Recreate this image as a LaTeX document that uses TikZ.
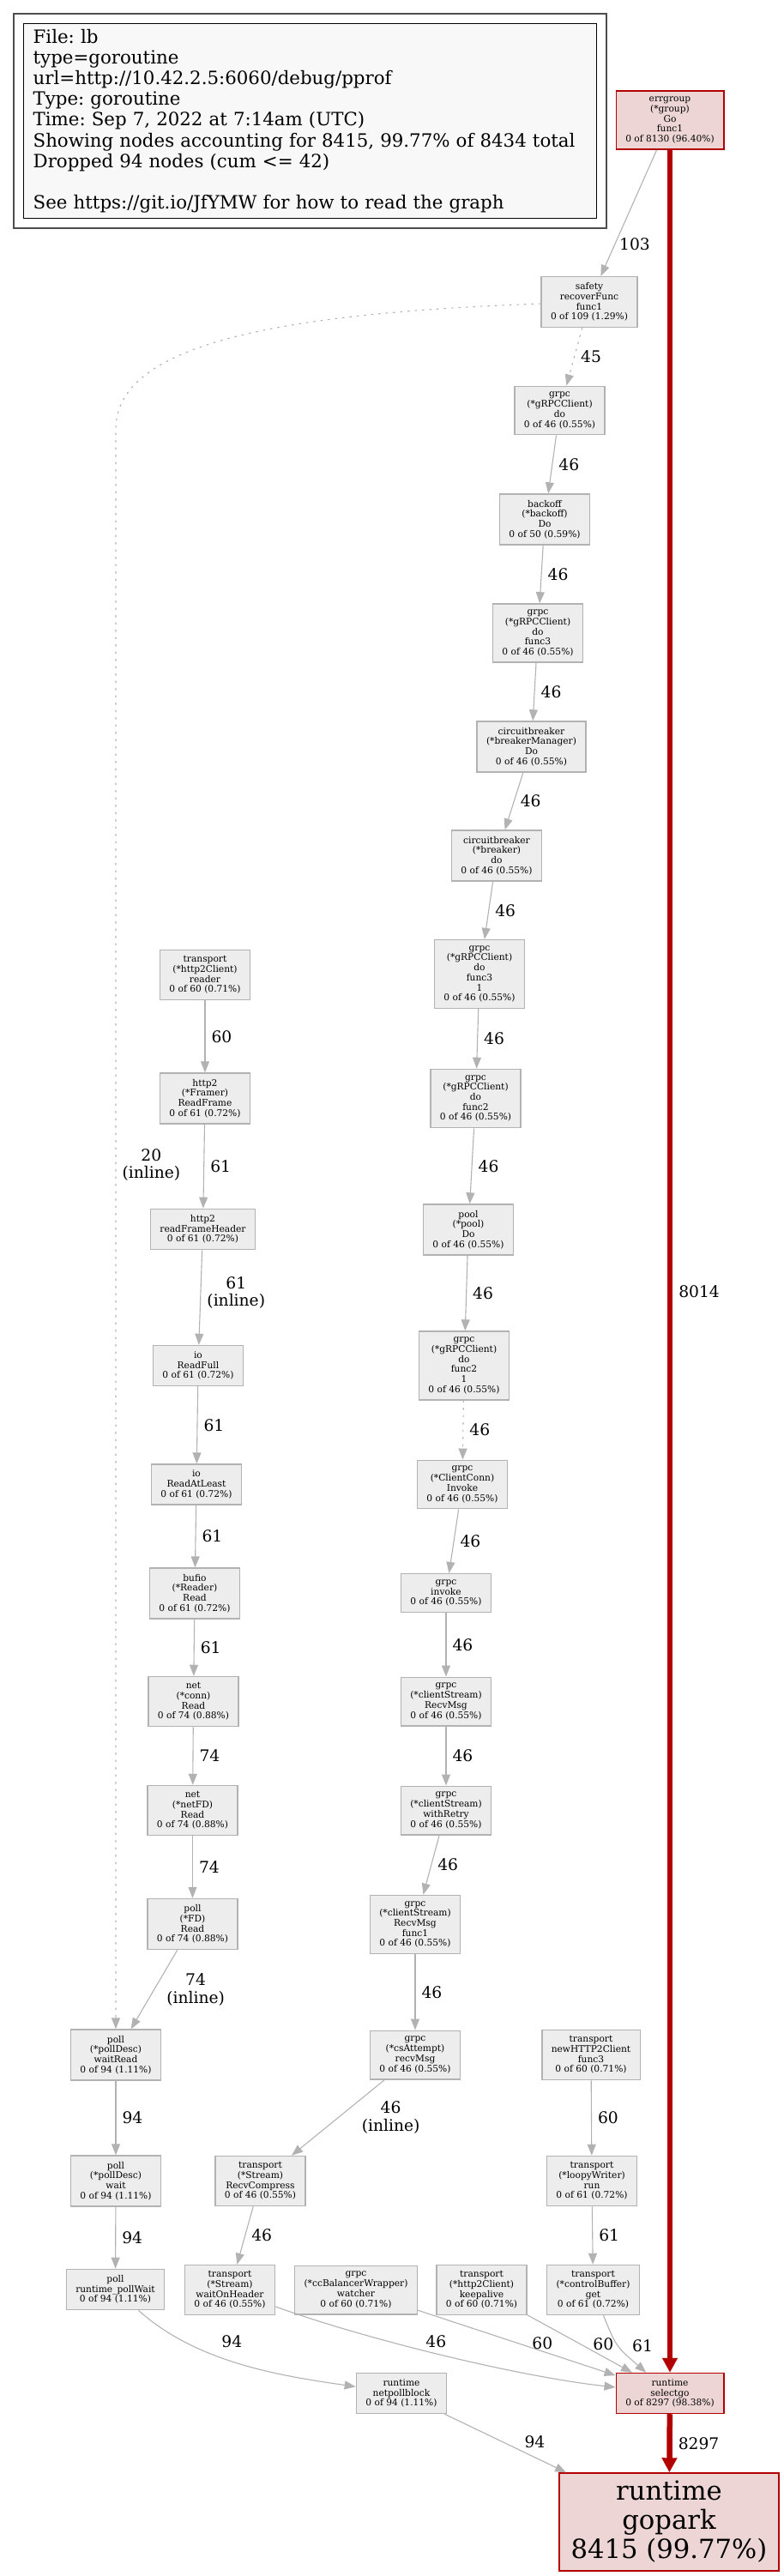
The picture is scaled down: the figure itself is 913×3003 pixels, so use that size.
\documentclass[tikz,border=0pt]{standalone}
\usepackage{fontspec}
\setmainfont{DejaVu Serif}
\usepackage{tikz}
\usetikzlibrary{arrows.meta, fit}
\usepackage{xcolor}

\definecolor{edgegray}{HTML}{B2B2B2}
\definecolor{nodegray}{HTML}{EDEDED}
\definecolor{nodeline}{HTML}{B2B2B2}
\definecolor{hotred}{HTML}{B20000}
\definecolor{hotfill}{HTML}{EDD5D5}
\definecolor{legendfill}{HTML}{F8F8F8}
\definecolor{legendline}{HTML}{4D4D4D}

\newcommand{\fnfont}{\fontsize{10.67pt}{11.7pt}\selectfont}
\newcommand{\lblfont}{\fontsize{18.67pt}{20.7pt}\selectfont}
\newcommand{\legfont}{\fontsize{21.33pt}{24.2pt}\selectfont\frenchspacing}
\newcommand{\bigfont}{\fontsize{30.7pt}{34pt}\selectfont}

\begin{document}
\begin{tikzpicture}[x=1pt,y=-1pt]
    \tikzstyle{fn}=[shape=rectangle, draw=nodeline, fill=nodegray, line width=1.5pt, inner xsep=11pt, inner ysep=7pt, align=center, font=\fnfont]
    \tikzstyle{hot}=[fn, draw=hotred, fill=hotfill]
    \tikzstyle{call}=[color=edgegray, line width=1.1pt, -{Triangle[length=13pt, width=10pt]}]
    \tikzstyle{resid}=[dash pattern=on 2.5pt off 6pt]
    \tikzstyle{heavy}=[color=hotred, line width=6.5pt, -{Triangle[length=17pt, width=17pt]}]
    \tikzstyle{lbl}=[anchor=west, inner sep=2pt, xshift=5pt, align=center, font=\lblfont, text=black]
    \tikzstyle{legend}=[shape=rectangle, draw=black, fill=legendfill, line width=1.3pt, align=left, font=\legfont, text width=646pt, minimum height=227pt, inner xsep=11pt, inner ysep=6pt]

    \useasboundingbox (0,0) rectangle (913,3003);

    % legend
    \node[legend, anchor=north west] (L) at (27,27) {File: lb\\type=goroutine\\url=http://10.42.2.5:6060/debug/pprof\\Type: goroutine\\Time: Sep 7, 2022 at 7:14am (UTC)\\Showing nodes accounting for 8415, 99.77\% of 8434 total\\Dropped 94 nodes (cum <= 42)\\[24.2pt]See https://git.io/JfYMW for how to read the graph};
    \node[draw=legendline, line width=2pt, fit=(L), inner sep=11pt] (LO) {};

    % right column
    \node[hot] (E0) at (781,140) {errgroup\\(*group)\\Go\\func1\\0 of 8130 (96.40\%)};
    \node[fn] (A1) at (687,352) {safety\\recoverFunc\\func1\\0 of 109 (1.29\%)};
    \node[fn] (A2) at (652.5,478.5) {grpc\\(*gRPCClient)\\do\\0 of 46 (0.55\%)};
    \node[fn] (A3) at (635,605.5) {backoff\\(*backoff)\\Do\\0 of 50 (0.59\%)};
    \node[fn] (A4) at (627,738) {grpc\\(*gRPCClient)\\do\\func3\\0 of 46 (0.55\%)};
    \node[fn] (A5) at (619.5,870.5) {circuitbreaker\\(*breakerManager)\\Do\\0 of 46 (0.55\%)};
    \node[fn] (A6) at (579,997.5) {circuitbreaker\\(*breaker)\\do\\0 of 46 (0.55\%)};
    \node[fn] (A7) at (559,1135.5) {grpc\\(*gRPCClient)\\do\\func3\\1\\0 of 46 (0.55\%)};
    \node[fn] (A8) at (554.5,1280.5) {grpc\\(*gRPCClient)\\do\\func2\\0 of 46 (0.55\%)};
    \node[fn] (A9) at (546,1433.5) {pool\\(*pool)\\Do\\0 of 46 (0.55\%)};
    \node[fn] (A10) at (541,1592) {grpc\\(*gRPCClient)\\do\\func2\\1\\0 of 46 (0.55\%)};
    \node[fn] (A11) at (539,1730.5) {grpc\\(*ClientConn)\\Invoke\\0 of 46 (0.55\%)};
    \node[fn] (A12) at (520,1857) {grpc\\invoke\\0 of 46 (0.55\%)};
    \node[fn] (A13) at (520,1983.5) {grpc\\(*clientStream)\\RecvMsg\\0 of 46 (0.55\%)};
    \node[fn] (A14) at (520,2110.5) {grpc\\(*clientStream)\\withRetry\\0 of 46 (0.55\%)};
    \node[fn] (A15) at (484,2243.5) {grpc\\(*clientStream)\\RecvMsg\\func1\\0 of 46 (0.55\%)};
    \node[fn] (A16) at (484,2395.5) {grpc\\(*csAttempt)\\recvMsg\\0 of 46 (0.55\%)};
    \node[fn] (A17) at (303.5,2542.5) {transport\\(*Stream)\\RecvCompress\\0 of 46 (0.55\%)};
    \node[fn] (A18) at (268,2669.5) {transport\\(*Stream)\\waitOnHeader\\0 of 46 (0.55\%)};

    % left column
    \node[fn] (B1) at (239,1136.5) {transport\\(*http2Client)\\reader\\0 of 60 (0.71\%)};
    \node[fn] (B2) at (239,1280.5) {http2\\(*Framer)\\ReadFrame\\0 of 61 (0.72\%)};
    \node[fn] (B3) at (236.5,1433) {http2\\readFrameHeader\\0 of 61 (0.72\%)};
    \node[fn] (B4) at (231,1592) {io\\ReadFull\\0 of 61 (0.72\%)};
    \node[fn] (B5) at (229,1730.5) {io\\ReadAtLeast\\0 of 61 (0.72\%)};
    \node[fn] (B6) at (227,1857.5) {bufio\\(*Reader)\\Read\\0 of 61 (0.72\%)};
    \node[fn] (B7) at (225.5,1983.5) {net\\(*conn)\\Read\\0 of 74 (0.88\%)};
    \node[fn] (B8) at (224.5,2110.5) {net\\(*netFD)\\Read\\0 of 74 (0.88\%)};
    \node[fn] (B9) at (224.5,2243) {poll\\(*FD)\\Read\\0 of 74 (0.88\%)};
    \node[fn] (C1) at (135,2395.5) {poll\\(*pollDesc)\\waitRead\\0 of 94 (1.11\%)};
    \node[fn] (C2) at (135,2542.5) {poll\\(*pollDesc)\\wait\\0 of 94 (1.11\%)};
    \node[fn] (C3) at (134.5,2669) {poll\\runtime\_pollWait\\0 of 94 (1.11\%)};

    % bottom rows
    \node[fn] (D1) at (689,2395.5) {transport\\newHTTP2Client\\func3\\0 of 60 (0.71\%)};
    \node[fn] (D2) at (690,2542.5) {transport\\(*loopyWriter)\\run\\0 of 61 (0.72\%)};
    \node[fn] (D3) at (691.5,2669.5) {transport\\(*controlBuffer)\\get\\0 of 61 (0.72\%)};
    \node[fn] (W1) at (415,2669.5) {grpc\\(*ccBalancerWrapper)\\watcher\\0 of 60 (0.71\%)};
    \node[fn] (K1) at (561.5,2669.5) {transport\\(*http2Client)\\keepalive\\0 of 60 (0.71\%)};
    \node[fn] (N1) at (468,2790) {runtime\\netpollblock\\0 of 94 (1.11\%)};
    \node[hot] (S1) at (781,2790) {runtime\\selectgo\\0 of 8297 (98.38\%)};
    \node[hot, font=\bigfont, minimum width=256pt, minimum height=114pt, inner xsep=12pt] (GP) at (780,2940) {runtime\\gopark\\8415 (99.77\%)};

    \coordinate (T1) at (135,500);

    \path[call]
    (E0) edge node[lbl, pos=0.75, xshift=-2pt] {103} (A1)
    (A1) edge[resid] node[lbl] {45} (A2)
    (A2) edge node[lbl] {46} (A3)
    (A3) edge node[lbl] {46} (A4)
    (A4) edge node[lbl] {46} (A5)
    (A5) edge node[lbl] {46} (A6)
    (A6) edge node[lbl] {46} (A7)
    (A7) edge node[lbl] {46} (A8)
    (A8) edge node[lbl] {46} (A9)
    (A9) edge node[lbl] {46} (A10)
    (A10) edge[resid] node[lbl] {46} (A11)
    (A11) edge node[lbl] {46} (A12)
    (A12) edge node[lbl] {46} (A13)
    (A13) edge node[lbl] {46} (A14)
    (A14) edge node[lbl] {46} (A15)
    (A15) edge node[lbl] {46} (A16)
    (A16) edge node[lbl, xshift=20pt] {46\\(inline)} (A17)
    (A17) edge node[lbl] {46} (A18)
    (B1) edge node[lbl] {60} (B2)
    (B2) edge node[lbl] {61} (B3)
    (B3) edge node[lbl, pos=0.45] {61\\(inline)} (B4)
    (B4) edge node[lbl] {61} (B5)
    (B5) edge node[lbl] {61} (B6)
    (B6) edge node[lbl] {61} (B7)
    (B7) edge node[lbl] {74} (B8)
    (B8) edge node[lbl] {74} (B9)
    (B9) edge node[lbl, xshift=7pt] {74\\(inline)} (C1)
    (C1) edge node[lbl] {94} (C2)
    (C2) edge node[lbl] {94} (C3)
    (D1) edge node[lbl] {60} (D2)
    (D2) edge node[lbl] {61} (D3)
    (W1) edge node[lbl, anchor=south, xshift=-5pt, pos=0.63] {60} (S1)
    (K1) edge node[lbl, xshift=8pt] {60} (S1)
    (N1) edge node[lbl, pos=0.47, xshift=19pt] {94} (GP)
    ;

    \draw[call, resid] (A1) .. controls (330,365) and (135,400) .. (T1) -- (C1) node[lbl, pos=0.46] {20\\(inline)};
    \draw[call] (C3) .. controls (230,2755) and (330,2770) .. (N1) node[lbl, pos=0.4, anchor=south west, xshift=-5pt, yshift=8pt] {94};
    \draw[call] (A18) .. controls (420,2725) and (600,2770) .. (S1) node[lbl, pos=0.5, anchor=south, xshift=-9pt, yshift=5pt] {46};
    \draw[call] (D3) .. controls (718,2735) .. (S1) node[lbl, pos=0.5, xshift=9pt] {61};

    \path[heavy]
    (E0) edge node[lbl, pos=0.5135] {8014} (S1)
    (S1) edge node[lbl] {8297} (GP)
    ;

\end{tikzpicture}
\end{document}
